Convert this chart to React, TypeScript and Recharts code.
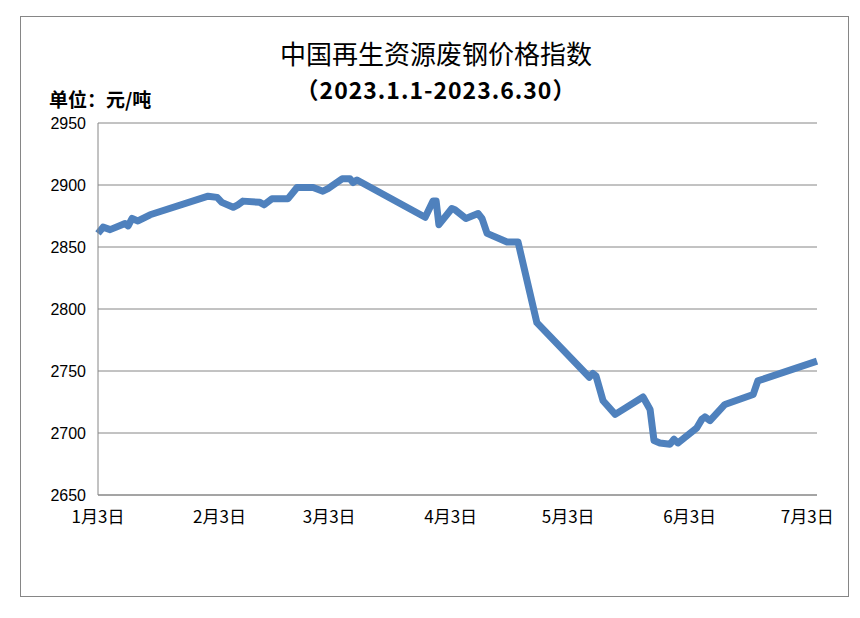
import React from 'react';
import { LineChart, Line, XAxis, YAxis, CartesianGrid } from 'recharts';

// days counted from Jan 3, 2023
const days: number[] = [
  0, 1.3, 3.1, 6.9, 7.7, 8.7, 10.2, 13.3, 28.1, 30.4, 31.6, 34.5, 35.7, 37.0, 41.3, 42.4,
  44.4, 48.5, 50.8, 54.9, 57.4, 58.7, 62.3, 64.3, 65.1, 66.1, 83.5, 85.5, 86.3, 87.0, 90.3,
  91.1, 93.9, 97.0, 98.0, 99.3, 104.4, 107.2, 112.0, 125.4, 126.3, 127.1, 128.9, 132.0,
  139.1, 140.9, 141.9, 143.4, 146.0, 147.0, 148.0, 152.8, 154.1, 154.9, 156.2, 160.0, 167.2,
  168.4, 183.5,
];

const prices: number[] = [
  2861, 2866, 2864, 2869, 2867, 2873, 2871, 2876, 2891, 2890, 2886, 2882, 2884, 2887, 2886,
  2884, 2889, 2889, 2898, 2898, 2895, 2897, 2905, 2905, 2902, 2904, 2874, 2887, 2887, 2868,
  2881, 2880, 2873, 2877, 2873, 2861, 2854, 2854, 2789, 2745, 2748, 2746, 2726, 2715, 2729,
  2719, 2694, 2692, 2691, 2695, 2692, 2704, 2711, 2713, 2710, 2723, 2731, 2742, 2758,
];

const tickDays: number[] = [0, 31, 59, 90, 120, 151, 181];
const tickLabels: string[] = ['1月3日', '2月3日', '3月3日', '4月3日', '5月3日', '6月3日', '7月3日'];
const yTicks: number[] = [2650, 2700, 2750, 2800, 2850, 2900, 2950];

const data = days.map((d, i) => ({ day: d, price: prices[i] }));

const cjk = '"Noto Sans CJK SC", "Noto Sans", sans-serif';

const App: React.FC = () => {
  return (
    <div style={{ position: 'absolute', left: 0, top: 0, width: 860, height: 618, background: '#fff' }}>
      <div
        style={{
          position: 'absolute',
          left: 20,
          top: 16,
          width: 829,
          height: 581,
          border: '1px solid #868686',
          boxSizing: 'border-box',
        }}
      />
      <div
        style={{
          position: 'absolute',
          left: 0,
          width: 872,
          top: 34,
          textAlign: 'center',
          fontFamily: cjk,
          fontSize: 26,
          lineHeight: '38px',
          color: '#000',
        }}
      >
        中国再生资源废钢价格指数
      </div>
      <div
        style={{
          position: 'absolute',
          left: 0,
          width: 872,
          top: 72,
          textAlign: 'center',
          fontFamily: cjk,
          fontSize: 23,
          fontWeight: 'bold',
          letterSpacing: 1,
          lineHeight: '34px',
          color: '#000',
        }}
      >
        （2023.1.1-2023.6.30）
      </div>
      <div
        style={{
          position: 'absolute',
          left: 49,
          top: 85,
          fontFamily: cjk,
          fontSize: 19,
          fontWeight: 'bold',
          lineHeight: '28px',
          color: '#000',
        }}
      >
        单位：元/吨
      </div>
      <div style={{ position: 'absolute', left: 0, top: 0 }}>
        <LineChart
          width={860}
          height={618}
          data={data}
          margin={{ top: 123, right: 43, left: 38, bottom: 93 }}
        >
          <CartesianGrid vertical={false} stroke='#868686' strokeWidth={1} />
          <XAxis
            dataKey='day'
            type='number'
            domain={[0, 183.5]}
            ticks={tickDays}
            tickFormatter={(v: number) => tickLabels[tickDays.indexOf(v)] ?? ''}
            height={30}
            axisLine={{ stroke: '#868686' }}
            tickLine={false}
            tickSize={14}
            tickMargin={2}
            interval={0}
            tick={{ fill: '#000', fontSize: 17, fontFamily: cjk }}
          />
          <YAxis
            type='number'
            domain={[2650, 2950]}
            ticks={yTicks}
            width={60}
            axisLine={{ stroke: '#868686' }}
            tickLine={false}
            tickSize={10}
            tickMargin={2}
            interval={0}
            tick={{ fill: '#000', fontSize: 16, fontFamily: '"Liberation Sans", Arial, sans-serif' }}
          />
          <Line
            type='linear'
            dataKey='price'
            stroke='#4F81BD'
            strokeWidth={7}
            dot={false}
            strokeLinejoin='round'
            isAnimationActive={false}
          />
        </LineChart>
      </div>
    </div>
  );
};

export default App;
